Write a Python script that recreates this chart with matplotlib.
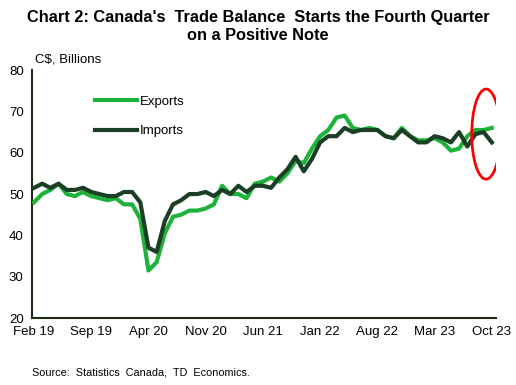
import numpy as np
import matplotlib.pyplot as plt
from matplotlib.patches import Ellipse

plt.rcParams['font.family'] = ['Liberation Sans', 'DejaVu Sans']

months = ['Feb 19', 'Sep 19', 'Apr 20', 'Nov 20', 'Jun 21', 'Jan 22', 'Aug 22', 'Mar 23', 'Oct 23']

exports = [48, 50, 51, 52.5, 50, 49.5, 50.5, 49.5, 49, 48.5, 49, 47.5, 47.5, 44,
           31.5, 33.5, 40.5, 44.5, 45, 46, 46, 46.5, 47.5, 52, 50, 50, 49, 52.5,
           53, 54, 53, 55, 58, 57.5, 61, 64, 65.5, 68.5, 69, 66, 65.5, 66,
           65.5, 64, 63.5, 66, 64, 63, 63, 63.5, 62.5, 60.5, 61, 64, 65.5, 65.5, 66]
imports = [51.5, 52.5, 51.5, 52.5, 51, 51, 51.5, 50.5, 50, 49.5, 49.5, 50.5, 50.5, 48,
           37, 36, 43.5, 47.5, 48.5, 50, 50, 50.5, 49.5, 51, 50, 52, 50.5, 52,
           52, 51.5, 54, 56, 59, 55.5, 58.5, 62.5, 64, 64, 66, 65, 65.5, 65.5,
           65.5, 64, 63.5, 65.5, 64, 62.5, 62.5, 64, 63.5, 62.5, 65, 61.5, 64.5, 65, 62.5]

x = np.arange(len(exports))

fig = plt.figure(figsize=(5.16, 3.85), dpi=100)
ax = fig.add_axes([0.062, 0.174, 0.899, 0.644])

ax.plot(x, exports, color='#1DB33A', lw=3, label='Exports', zorder=3)
ax.plot(x, imports, color='#1B3F25', lw=3, label='Imports', zorder=4)

ax.add_patch(Ellipse((55.3, 64.5), 3.5, 21.8, fill=False, edgecolor='#FF0000', lw=2, zorder=5))

ax.set_xlim(-0.25, 56.5)
ax.set_ylim(20, 80)
ax.set_yticks(range(20, 81, 10))
ax.set_xticks(range(0, 57, 7))
ax.set_xticklabels(months)
ax.tick_params(length=0, labelsize=9.5, pad=6)
for s in ['top', 'right']:
    ax.spines[s].set_visible(False)
for s in ['left', 'bottom']:
    ax.spines[s].set_color('#1F2A14')
    ax.spines[s].set_linewidth(1.5)

ax.legend(loc='upper left', bbox_to_anchor=(0.11, 0.945), frameon=False, fontsize=9.5,
          handlelength=3.2, handletextpad=0.2, labelspacing=1.3)

fig.text(0.5, 0.975, "Chart 2: Canada's  Trade Balance  Starts the Fourth Quarter\non a Positive Note",
         ha='center', va='top', fontsize=11.8, fontweight='bold', linespacing=1.3)
fig.text(0.068, 0.838, 'C$, Billions', fontsize=9.5)
fig.text(0.062, 0.025, 'Source:  Statistics  Canada,  TD  Economics.', fontsize=7.8)

plt.savefig('out.png', dpi=100)
